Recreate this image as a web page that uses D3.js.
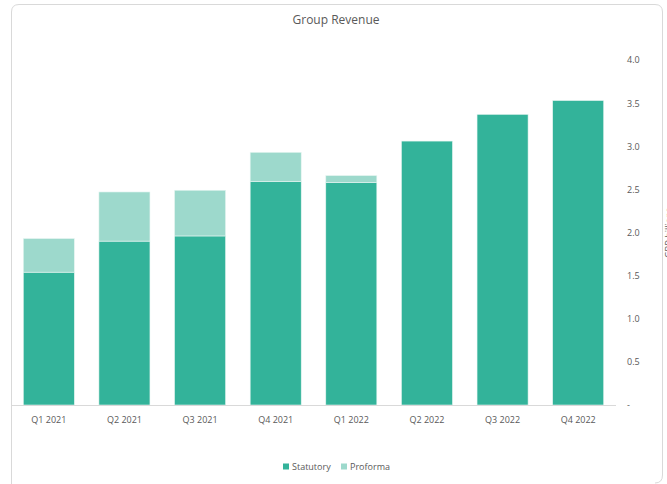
<!DOCTYPE html>
<html>
<head>
<meta charset="utf-8">
<script src="https://cdn.jsdelivr.net/npm/d3@7"></script>
<style>
  html, body { margin: 0; padding: 0; background: #fff; }
  svg { display: block; font-family: "Open Sans", "Noto Sans", sans-serif; }
</style>
</head>
<body>
<svg id="chart" width="667" height="484"></svg>
<script>
// Quarterly revenue split into statutory and proforma contributions
const quarters = ["Q1 2021", "Q2 2021", "Q3 2021", "Q4 2021", "Q1 2022", "Q2 2022", "Q3 2022", "Q4 2022"];
const statutory = [1.54, 1.90, 1.96, 2.59, 2.58, 3.06, 3.37, 3.53];
const proforma  = [0.39, 0.57, 0.53, 0.34, 0.08, 0, 0, 0];
const yTicks = [0, 0.5, 1.0, 1.5, 2.0, 2.5, 3.0, 3.5, 4.0];
const seriesNames = ["Statutory", "Proforma"];
const colors = ["#33b39a", "#9dd9cc"];

const svg = d3.select("#chart");

// Frame of the chart container
svg.append("path")
  .attr("d", "M11.5,490 L11.5,12 Q11.5,4.5 19,4.5 L655,4.5 Q662.5,4.5 662.5,12 L662.5,475 Q662.5,483 655,483")
  .attr("fill", "none")
  .attr("stroke", "#d9d9d9")
  .attr("stroke-width", 1);

const x = d3.scaleBand().domain(quarters).range([11, 616]).paddingInner(0.325).paddingOuter(0.1625);
const y = d3.scaleLinear().domain([0, 4]).range([405, 60]);

const rows = quarters.map((q, i) => ({ quarter: q, Statutory: statutory[i], Proforma: proforma[i] }));
const stacked = d3.stack().keys(seriesNames)(rows);

svg.append("g").selectAll("g")
  .data(stacked)
  .join("g")
  .attr("fill", (d, i) => colors[i])
  .selectAll("rect")
  .data(d => d.filter(p => p[1] - p[0] > 0))
  .join("rect")
  .attr("x", d => x(d.data.quarter))
  .attr("width", x.bandwidth())
  .attr("y", d => y(d[1]))
  .attr("height", d => y(d[0]) - y(d[1]))
  .attr("stroke", "#e8f6f2")
  .attr("stroke-width", 0.6);

// Category axis baseline and labels
svg.append("line")
  .attr("x1", 11).attr("x2", 616)
  .attr("y1", 405.5).attr("y2", 405.5)
  .attr("stroke", "#d9d9d9");

svg.append("g").selectAll("text")
  .data(quarters)
  .join("text")
  .attr("x", d => x(d) + x.bandwidth() / 2)
  .attr("y", 423)
  .attr("text-anchor", "middle")
  .attr("font-size", 9)
  .attr("fill", "#595959")
  .text(d => d);

// Value axis on the right
const yAxis = d3.axisRight(y)
  .tickValues(yTicks)
  .tickSize(0)
  .tickPadding(0)
  .tickFormat(v => v === 0 ? "-" : d3.format(".1f")(v));

const ya = svg.append("g").attr("transform", "translate(627,0)").call(yAxis);
ya.select(".domain").remove();
ya.selectAll("text")
  .attr("font-size", 9)
  .attr("fill", "#595959")
  .attr("font-family", "\"Open Sans\", \"Noto Sans\", sans-serif");

// Value axis title, running up the right edge
svg.append("text")
  .attr("transform", "translate(672,233) rotate(-90)")
  .attr("text-anchor", "middle")
  .attr("font-size", 9)
  .attr("fill", "#595959")
  .text("GBP billions");

// Title
svg.append("text")
  .attr("x", 336).attr("y", 24)
  .attr("text-anchor", "middle")
  .attr("font-size", 12)
  .attr("fill", "#595959")
  .text("Group Revenue");

// Legend
const legend = svg.append("g").attr("transform", "translate(283,467)");
const items = legend.selectAll("g")
  .data(seriesNames)
  .join("g")
  .attr("transform", (d, i) => `translate(${i * 58},0)`);
items.append("rect")
  .attr("x", 0).attr("y", -3.5)
  .attr("width", 6).attr("height", 6)
  .attr("fill", (d, i) => colors[i]);
items.append("text")
  .attr("x", 9).attr("y", 3)
  .attr("font-size", 9)
  .attr("fill", "#595959")
  .text(d => d);
</script>
</body>
</html>
